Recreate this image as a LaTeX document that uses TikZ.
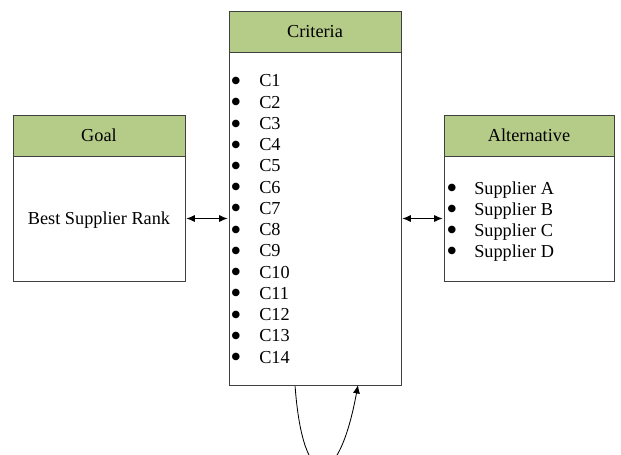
\documentclass[tikz,border=0pt]{standalone}
\usepackage{fontspec}
\setmainfont{Liberation Serif}
\newfontfamily\dotfont{DejaVu Sans}
\usetikzlibrary{arrows.meta,positioning}
\definecolor{headgreen}{RGB}{181,203,136}
\definecolor{boxline}{RGB}{64,64,64}

\begin{document}
\begin{tikzpicture}
[y=-1cm,
every node/.style={font=\fontsize{13}{15.6}\selectfont},
head/.style={draw=boxline, fill=headgreen, line width=.6pt, minimum width=4.3cm, minimum height=1.025cm, inner sep=0pt, outer sep=0pt},
body/.style={draw=boxline, line width=.6pt, minimum width=4.3cm, inner sep=0pt, outer sep=0pt},
item/.style={anchor=base west, inner sep=0pt},
dot/.style={inner sep=0pt, font=\dotfont\fontsize{7}{7}\selectfont},
edge/.style={>={Latex[length=6pt,width=5pt]}, shorten >=1pt, shorten <=1pt, semithick}]
%%
\clip (0,0) rectangle (15.525,11.375);
%%
\node[head] (goalhead) at (2.475,3.3875) {Goal};
\node[body, below=0pt of goalhead, minimum height=3.125cm, text depth=0pt] (goal) {Best Supplier Rank};
%%
\node[head] (criteriahead) at (7.875,0.7875) {Criteria};
\node[body, below=0pt of criteriahead, minimum height=8.325cm] (criteria) {};
\foreach \i in {1,...,14} {
  \node[item] (c\i) at (6.475,{2.175+0.5308*(\i-1)}) {C\i};
  \node[dot] (cdot\i) at ([xshift=-.575cm,yshift=.15cm]c\i.base west) {●};
}
%%
\node[head, minimum width=4.25cm] (alternativehead) at (13.225,3.3875) {Alternative};
\node[body, below=0pt of alternativehead, minimum width=4.25cm, minimum height=3.125cm] (alternative) {};
\foreach \s [count=\i] in {A,B,C,D} {
  \node[item] (supplier\s) at (11.85,{4.85+0.525*(\i-1)}) {Supplier \s};
  \node[dot] (supplierdot\s) at ([xshift=-.55cm,yshift=.15cm]supplier\s.base west) {●};
}
%%
\draw[edge,<->] (goal) -- (criteria);
\draw[edge,<->] (criteria) -- (alternative);
\draw[edge,->,shorten >=0pt] ([xshift=-.5cm]criteria.south) .. controls +(0.2,2.7) and +(-0.5,2.7) .. ([xshift=1.075cm]criteria.south);
\end{tikzpicture}
\end{document}
